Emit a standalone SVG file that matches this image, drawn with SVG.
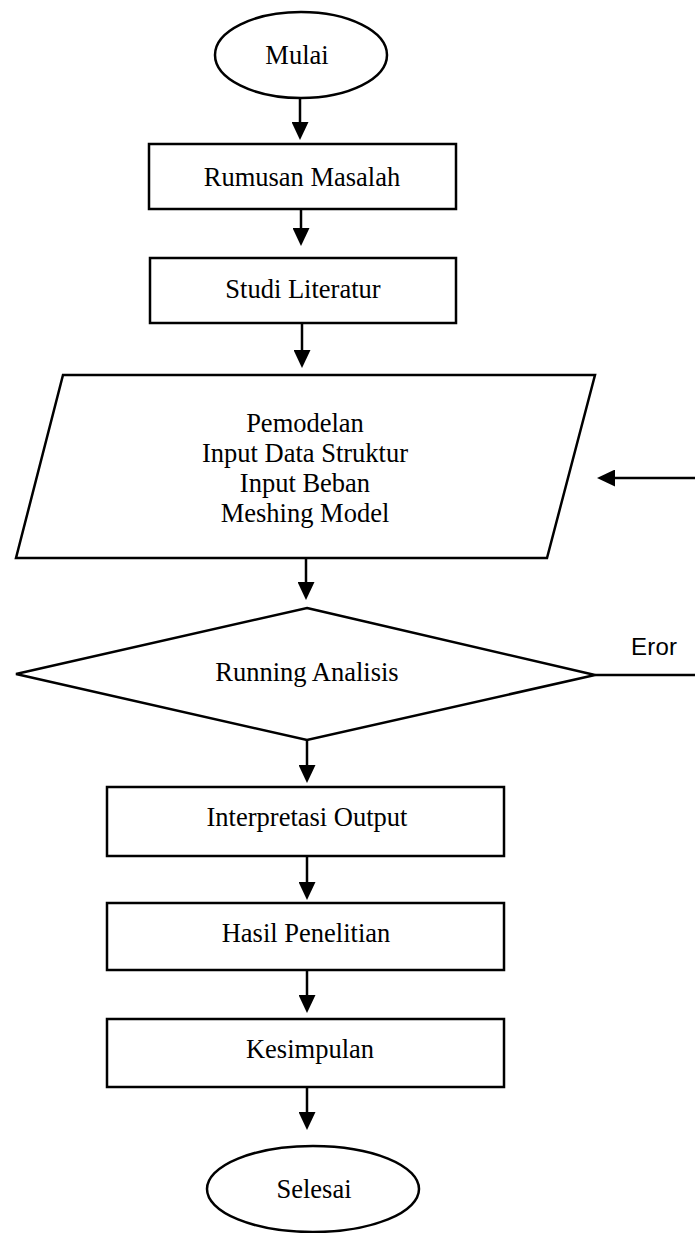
<svg xmlns="http://www.w3.org/2000/svg" width="695" height="1233" viewBox="0 0 695 1233">
<style>
.s{fill:#fff;stroke:#000;stroke-width:2.5}
.t{font-family:"Liberation Serif","Times New Roman",serif;font-size:26.5px;fill:#000;text-anchor:middle}
.e{font-family:"Liberation Sans",Arial,sans-serif;font-size:24px;fill:#000}
.c{stroke:#000;stroke-width:2.5;fill:none}
</style>
<defs>
<marker id="ah" markerUnits="userSpaceOnUse" markerWidth="18" markerHeight="17" refX="8" refY="8.5" orient="auto">
<path d="M0,0 L18,8.5 L0,17 z" fill="#000"/>
</marker>
</defs>
<rect width="695" height="1233" fill="#fff"/>
<g id="connectors">
<line class="c" x1="300" y1="98" x2="300" y2="130" marker-end="url(#ah)"/>
<line class="c" x1="301" y1="210" x2="301" y2="236" marker-end="url(#ah)"/>
<line class="c" x1="302" y1="324" x2="302" y2="358" marker-end="url(#ah)"/>
<line class="c" x1="306" y1="559" x2="306" y2="590" marker-end="url(#ah)"/>
<line class="c" x1="307" y1="740" x2="307" y2="773" marker-end="url(#ah)"/>
<line class="c" x1="307" y1="857" x2="307" y2="890" marker-end="url(#ah)"/>
<line class="c" x1="307" y1="971" x2="307" y2="1003" marker-end="url(#ah)"/>
<line class="c" x1="307" y1="1088" x2="307" y2="1120" marker-end="url(#ah)"/>
<polyline class="c" points="595,675 695,675"/>
<line class="c" x1="695" y1="478" x2="607" y2="478" marker-end="url(#ah)"/>
<text class="e" x="631" y="655" textLength="46">Eror</text>
</g>
<g id="mulai">
<ellipse class="s" cx="301" cy="55" rx="86" ry="43"/>
<text class="t" x="297" y="64">Mulai</text>
</g>
<g id="rumusan">
<rect class="s" x="149" y="144" width="307" height="65"/>
<text class="t" x="302" y="186">Rumusan Masalah</text>
</g>
<g id="studi">
<rect class="s" x="150" y="258" width="306" height="65"/>
<text class="t" x="303" y="298">Studi Literatur</text>
</g>
<g id="pemodelan">
<polygon class="s" points="63,375 595,375 547,558 16,558"/>
<text class="t" x="305" y="432">Pemodelan</text>
<text class="t" x="305" y="462">Input Data Struktur</text>
<text class="t" x="305" y="492">Input Beban</text>
<text class="t" x="305" y="522">Meshing Model</text>
</g>
<g id="running">
<polygon class="s" points="307,608 595,675 307,740 16,674"/>
<text class="t" x="307" y="681">Running Analisis</text>
</g>
<g id="interpretasi">
<rect class="s" x="107" y="787" width="397" height="69"/>
<text class="t" x="307" y="826">Interpretasi Output</text>
</g>
<g id="hasil">
<rect class="s" x="107" y="903" width="397" height="67"/>
<text class="t" x="306" y="942">Hasil Penelitian</text>
</g>
<g id="kesimpulan">
<rect class="s" x="107" y="1019" width="397" height="68"/>
<text class="t" x="310" y="1058">Kesimpulan</text>
</g>
<g id="selesai">
<ellipse class="s" cx="313" cy="1189" rx="106" ry="43"/>
<text class="t" x="314" y="1198">Selesai</text>
</g>
</svg>
